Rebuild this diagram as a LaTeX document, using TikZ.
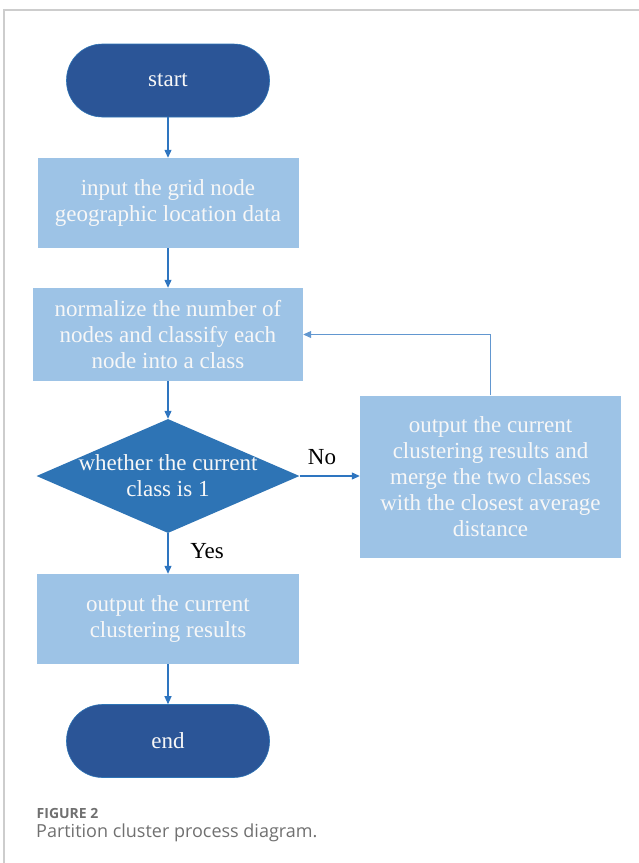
\documentclass[tikz,border=0pt]{standalone}
\usepackage{fontspec}
\setmainfont{Liberation Serif}
\newfontfamily\capfont{Open Sans}
\usetikzlibrary{shapes.geometric,arrows.meta}
\definecolor{darkblue}{HTML}{2B5597}
\definecolor{midblue}{HTML}{2E74B5}
\definecolor{lightblue}{HTML}{9DC3E6}
\definecolor{arrowblue}{HTML}{2E75C0}
\definecolor{framegray}{HTML}{CDCDCD}
\definecolor{capgray}{HTML}{707070}
\definecolor{boxtext}{HTML}{F7F7F7}
\tikzset{
  terminal/.style={rectangle, rounded corners=36pt, fill=darkblue, draw=midblue, line width=0.6pt,
    minimum width=203pt, minimum height=73pt, inner sep=0pt, text=boxtext,
    font=\fontsize{23}{26}\selectfont},
  procbox/.style={rectangle, fill=lightblue, draw=none, inner sep=0pt, text=boxtext,
    align=center, font=\fontsize{23}{26}\selectfont},
  decision/.style={diamond, fill=midblue, draw=none, inner sep=0pt,
    minimum width=263pt, minimum height=114pt},
  dectextstyle/.style={inner sep=0pt, text=boxtext, align=center, font=\fontsize{23}{26}\selectfont},
  flowarrow/.style={draw=arrowblue, line width=1.1pt, -{Triangle[length=8pt,width=7pt]}},
  branchlabel/.style={font=\fontsize{23}{26}\selectfont, text=black, inner sep=0pt}
}
\begin{document}
\begin{tikzpicture}[x=1pt,y=-1pt]
\useasboundingbox (0,0) rectangle (639,863);
\draw[framegray, line width=1.4pt] (4,863) -- (4,10) -- (639,10);

\node[terminal] (start) at (168,80.5) {start};
\node[procbox, minimum width=261pt, minimum height=90pt] (input) at (168,203)
  {input the grid node\\geographic location data};
\node[procbox, minimum width=270pt, minimum height=93pt] (norm) at (168,334.5)
  {normalize the number of\\nodes and classify each\\node into a class};
\node[decision] (dec) at (168,476) {};
\node[dectextstyle] (dectext) at (168,476)
  {whether the current\\class is 1};
\node[procbox, minimum width=261pt, minimum height=162pt] (merge) at (490.5,476.5)
  {output the current\\clustering results and\\merge the two classes\\with the closest average\\distance};
\node[procbox, minimum width=262pt, minimum height=90pt] (out) at (168,619)
  {output the current\\clustering results};
\node[terminal] (end) at (168,741) {end};

\draw[flowarrow] (start) -- (input);
\draw[flowarrow] (input) -- (norm);
\draw[flowarrow] (norm) -- (dec);
\draw[flowarrow] (dec.east) -- (merge.west |- dec.east);
\draw[flowarrow, draw=arrowblue!75] (merge.north) |- (norm.east);
\draw[flowarrow] (dec) -- (out);
\draw[flowarrow] (out) -- (end);

\node[branchlabel] (nolabel) at (322,457) {No};
\node[branchlabel] (yeslabel) at (207,551) {Yes};

\node[anchor=base west, inner sep=0pt, text=capgray, font=\capfont\bfseries\fontsize{14}{16}\selectfont] (figlabel) at (36.5,818) {FIGURE 2};
\node[anchor=base west, inner sep=0pt, text=capgray, font=\capfont\fontsize{18}{20}\selectfont] (figcaption) at (36,837) {Partition cluster process diagram.};
\end{tikzpicture}
\end{document}
